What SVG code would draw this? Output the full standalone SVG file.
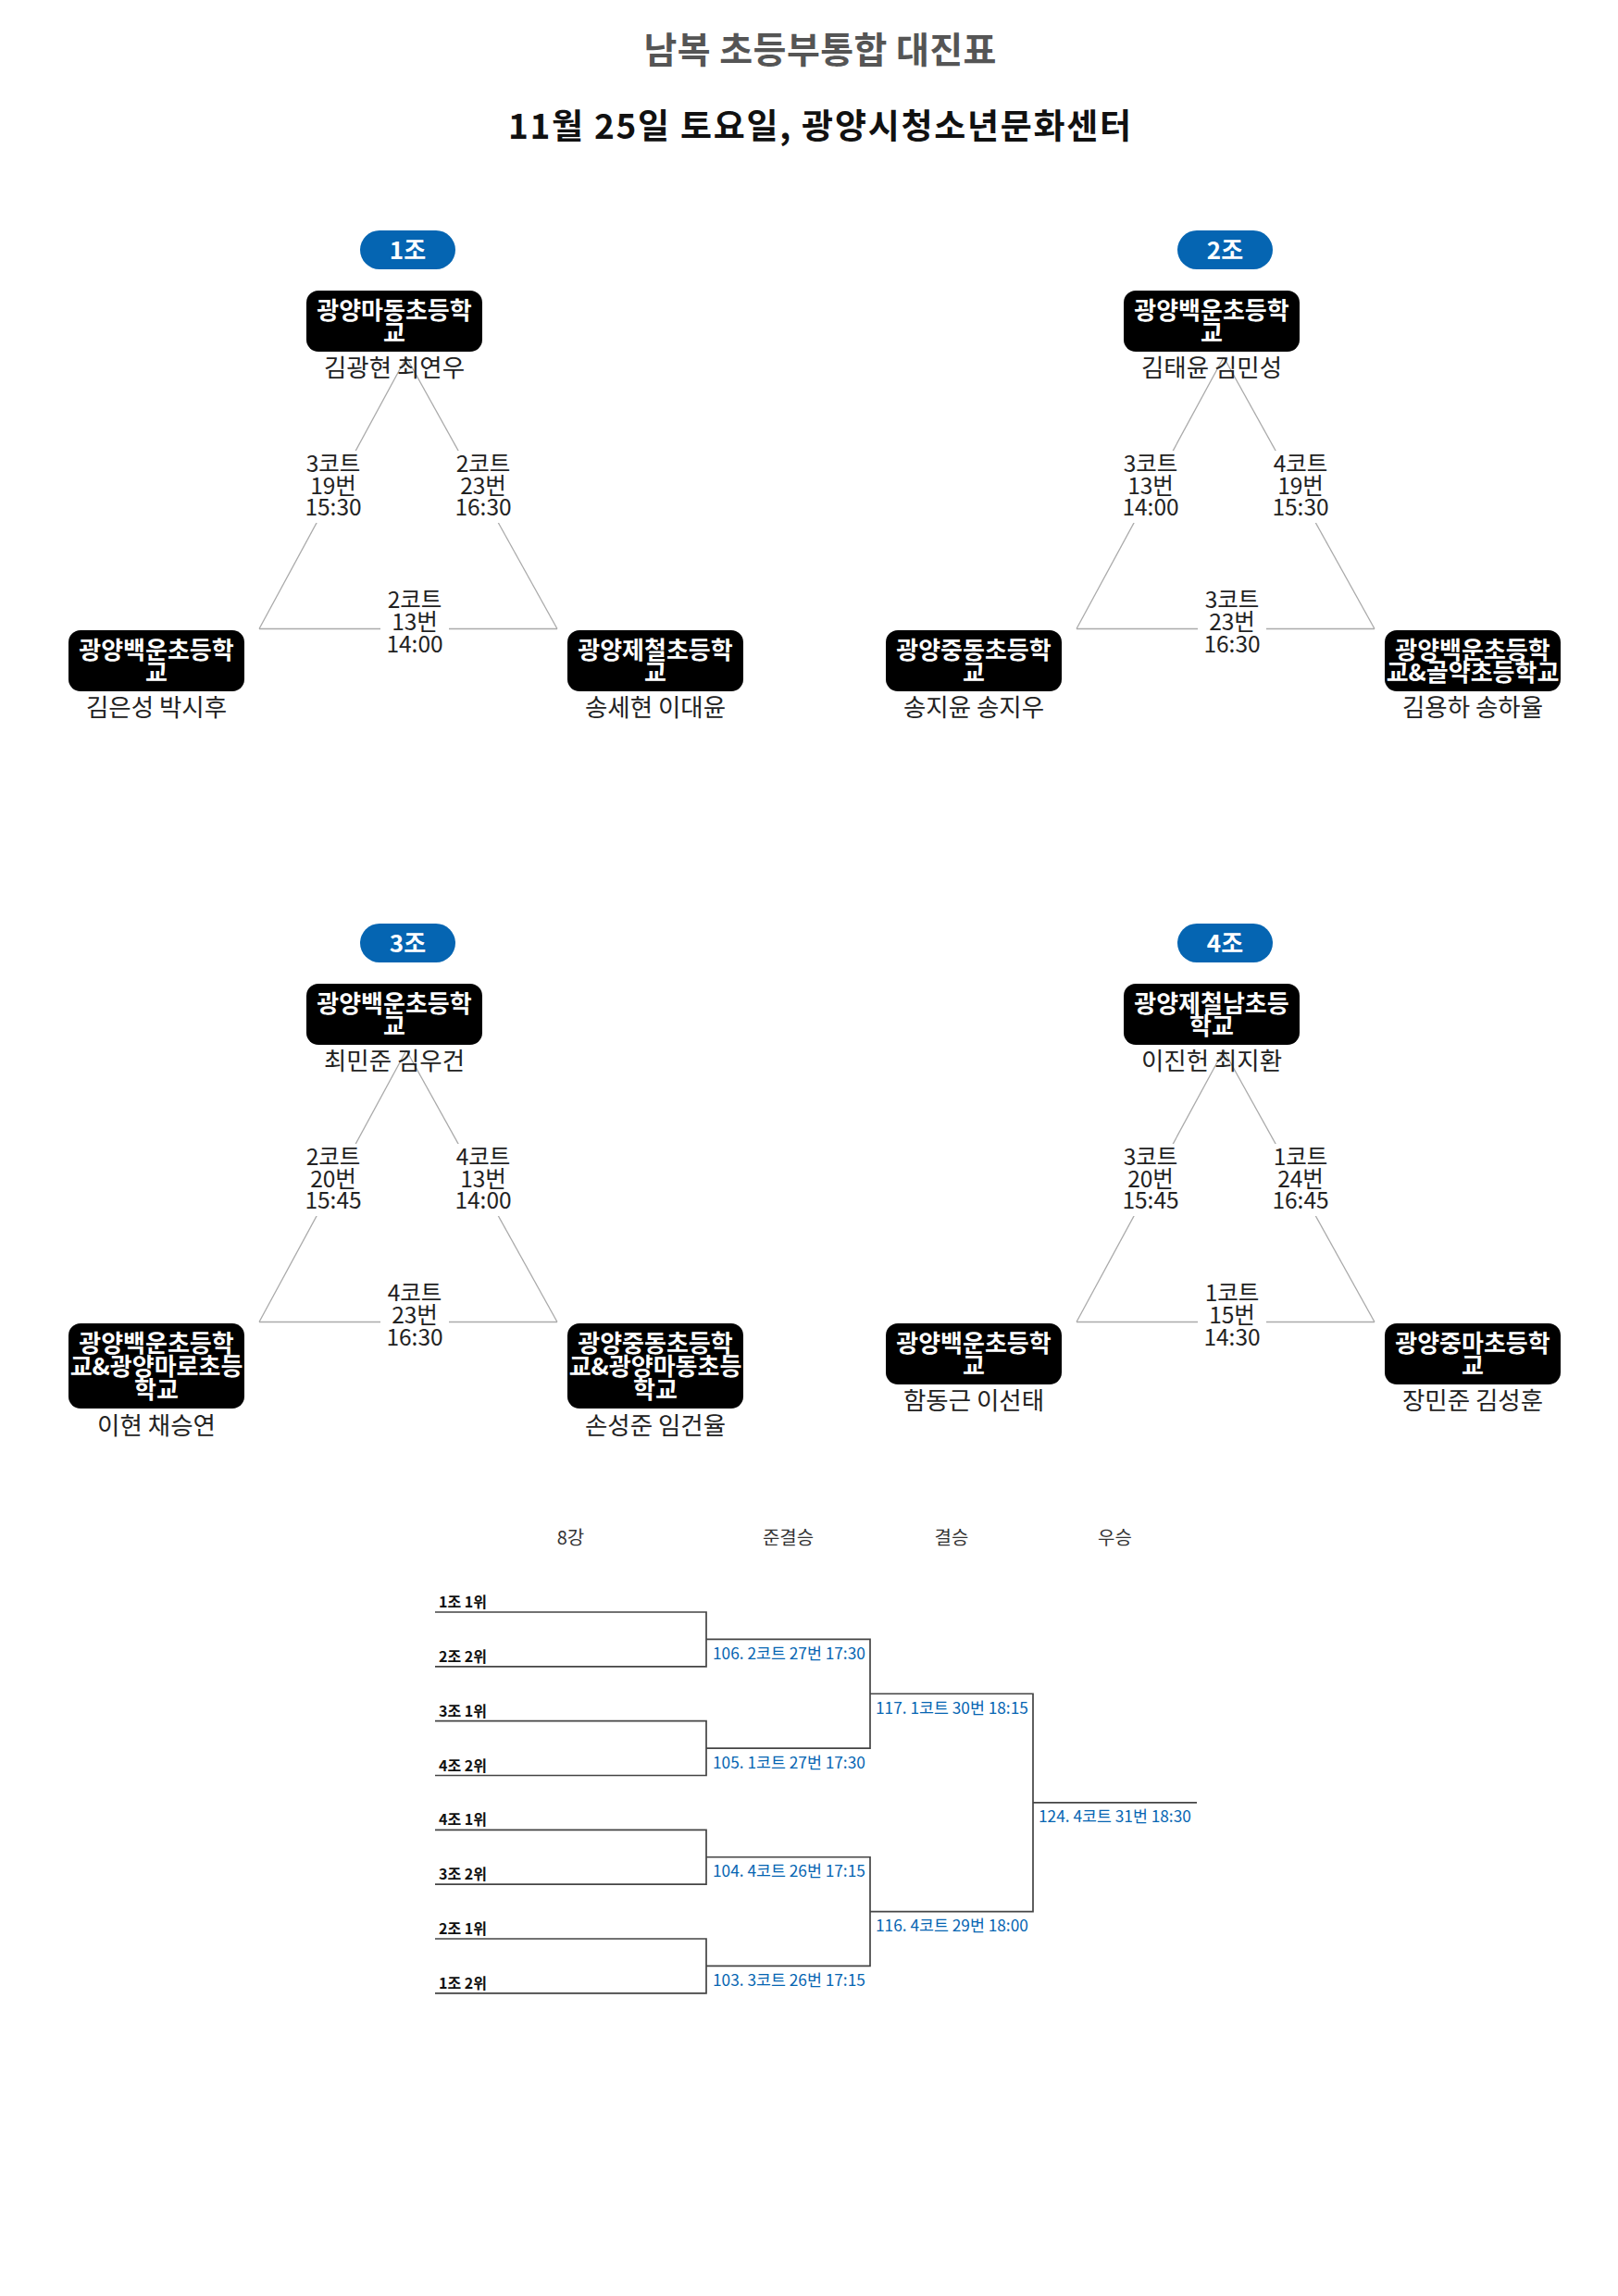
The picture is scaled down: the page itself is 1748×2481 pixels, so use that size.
<svg xmlns="http://www.w3.org/2000/svg" width="1748" height="2481" viewBox="0 0 1748 2481">
<style>
text{font-family:"Noto Sans CJK KR","Noto Sans",sans-serif}
.title{font-size:39px;font-weight:bold;fill:#555;text-anchor:middle}
.sub{font-size:37px;font-weight:bold;fill:#111;text-anchor:middle}
.pill{fill:#0565b2}
.pt{font-size:26px;font-weight:bold;fill:#fff;text-anchor:middle}
.box{fill:#000}
.bt{font-size:26px;font-weight:bold;fill:#fff;text-anchor:middle}
.nm{font-size:26.5px;fill:#222;text-anchor:middle}
.edge{stroke:#aaa;stroke-width:1.3;fill:none}
.lbg{fill:#fff}
.el{font-size:24.5px;fill:#222;text-anchor:middle}
.br{stroke:#444;stroke-width:1.7;fill:none}
.rh{font-size:20px;fill:#333;text-anchor:middle}
.rl{font-size:16px;font-weight:bold;fill:#111}
.ml{font-size:17.3px;fill:#0565b2}
</style>
<rect width="1748" height="2481" fill="#fff"/>
<g id="header">
<text class="title" x="886" y="68" textLength="381" lengthAdjust="spacing">남복 초등부통합 대진표</text>
<text class="sub" x="885.5" y="150" textLength="673" lengthAdjust="spacing">11월 25일 토요일, 광양시청소년문화센터</text>
</g>
<g id="connectors">
<g id="pool1-edges">
<line class="edge" x1="439" y1="386" x2="280" y2="679.5"/>
<line class="edge" x1="439" y1="386" x2="602" y2="679.5"/>
<line class="edge" x1="280" y1="679.5" x2="602" y2="679.5"/>
<rect class="lbg" x="326" y="487" width="68" height="78"/>
<text class="el" x="360" y="510">3코트</text><text class="el" x="360" y="533.5">19번</text><text class="el" x="360" y="557">15:30</text>
<rect class="lbg" x="488" y="487" width="68" height="78"/>
<text class="el" x="522" y="510">2코트</text><text class="el" x="522" y="533.5">23번</text><text class="el" x="522" y="557">16:30</text>
<rect class="lbg" x="411" y="636" width="74" height="74"/>
<text class="el" x="448" y="657">2코트</text><text class="el" x="448" y="681">13번</text><text class="el" x="448" y="705">14:00</text>
</g>
<g id="pool2-edges">
<line class="edge" x1="1322" y1="386" x2="1163" y2="679.5"/>
<line class="edge" x1="1322" y1="386" x2="1485" y2="679.5"/>
<line class="edge" x1="1163" y1="679.5" x2="1485" y2="679.5"/>
<rect class="lbg" x="1209" y="487" width="68" height="78"/>
<text class="el" x="1243" y="510">3코트</text><text class="el" x="1243" y="533.5">13번</text><text class="el" x="1243" y="557">14:00</text>
<rect class="lbg" x="1371" y="487" width="68" height="78"/>
<text class="el" x="1405" y="510">4코트</text><text class="el" x="1405" y="533.5">19번</text><text class="el" x="1405" y="557">15:30</text>
<rect class="lbg" x="1294" y="636" width="74" height="74"/>
<text class="el" x="1331" y="657">3코트</text><text class="el" x="1331" y="681">23번</text><text class="el" x="1331" y="705">16:30</text>
</g>
<g id="pool3-edges">
<line class="edge" x1="439" y1="1135" x2="280" y2="1428.5"/>
<line class="edge" x1="439" y1="1135" x2="602" y2="1428.5"/>
<line class="edge" x1="280" y1="1428.5" x2="602" y2="1428.5"/>
<rect class="lbg" x="326" y="1236" width="68" height="78"/>
<text class="el" x="360" y="1259">2코트</text><text class="el" x="360" y="1282.5">20번</text><text class="el" x="360" y="1306">15:45</text>
<rect class="lbg" x="488" y="1236" width="68" height="78"/>
<text class="el" x="522" y="1259">4코트</text><text class="el" x="522" y="1282.5">13번</text><text class="el" x="522" y="1306">14:00</text>
<rect class="lbg" x="411" y="1385" width="74" height="74"/>
<text class="el" x="448" y="1406">4코트</text><text class="el" x="448" y="1430">23번</text><text class="el" x="448" y="1454">16:30</text>
</g>
<g id="pool4-edges">
<line class="edge" x1="1322" y1="1135" x2="1163" y2="1428.5"/>
<line class="edge" x1="1322" y1="1135" x2="1485" y2="1428.5"/>
<line class="edge" x1="1163" y1="1428.5" x2="1485" y2="1428.5"/>
<rect class="lbg" x="1209" y="1236" width="68" height="78"/>
<text class="el" x="1243" y="1259">3코트</text><text class="el" x="1243" y="1282.5">20번</text><text class="el" x="1243" y="1306">15:45</text>
<rect class="lbg" x="1371" y="1236" width="68" height="78"/>
<text class="el" x="1405" y="1259">1코트</text><text class="el" x="1405" y="1282.5">24번</text><text class="el" x="1405" y="1306">16:45</text>
<rect class="lbg" x="1294" y="1385" width="74" height="74"/>
<text class="el" x="1331" y="1406">1코트</text><text class="el" x="1331" y="1430">15번</text><text class="el" x="1331" y="1454">14:30</text>
</g>
<g id="bracket-lines">
<path class="br" d="M470,1742 H763 V1800.8 H470"/>
<path class="br" d="M470,1859.7 H763 V1918.5 H470"/>
<path class="br" d="M470,1977.3 H763 V2036.2 H470"/>
<path class="br" d="M470,2095 H763 V2153.8 H470"/>
<path class="br" d="M763,1771.4 H940 V1889.1 H763"/>
<path class="br" d="M763,2006.75 H940 V2124.4 H763"/>
<path class="br" d="M940,1830.25 H1116 V2065.6 H940"/>
<path class="br" d="M1116,1947.9 H1293"/>
</g>
</g>
<!-- Pool 1 -->
<g id="pool1-label"><rect class="pill" x="389" y="249" width="103" height="42" rx="21"/><text class="pt" x="440.5" y="280">1조</text></g>
<g id="p1-top"><rect class="box" x="331" y="314" width="190" height="66" rx="13"/><text class="bt" x="426" y="344.5">광양마동초등학</text><text class="bt" x="426" y="369">교</text><text class="nm" x="426" y="407">김광현 최연우</text></g>
<g id="p1-left"><rect class="box" x="74" y="681" width="190" height="66" rx="13"/><text class="bt" x="169" y="711.5">광양백운초등학</text><text class="bt" x="169" y="736">교</text><text class="nm" x="169" y="774">김은성 박시후</text></g>
<g id="p1-right"><rect class="box" x="613" y="681" width="190" height="66" rx="13"/><text class="bt" x="708" y="711.5">광양제철초등학</text><text class="bt" x="708" y="736">교</text><text class="nm" x="708" y="774">송세현 이대윤</text></g>
<!-- Pool 2 -->
<g id="pool2-label"><rect class="pill" x="1272" y="249" width="103" height="42" rx="21"/><text class="pt" x="1323.5" y="280">2조</text></g>
<g id="p2-top"><rect class="box" x="1214" y="314" width="190" height="66" rx="13"/><text class="bt" x="1309" y="344.5">광양백운초등학</text><text class="bt" x="1309" y="369">교</text><text class="nm" x="1309" y="407">김태윤 김민성</text></g>
<g id="p2-left"><rect class="box" x="957" y="681" width="190" height="66" rx="13"/><text class="bt" x="1052" y="711.5">광양중동초등학</text><text class="bt" x="1052" y="736">교</text><text class="nm" x="1052" y="774">송지윤 송지우</text></g>
<g id="p2-right"><rect class="box" x="1496" y="681" width="190" height="66" rx="13"/><text class="bt" x="1591" y="711.5">광양백운초등학</text><text class="bt" x="1591" y="736">교&amp;골약초등학교</text><text class="nm" x="1591" y="774">김용하 송하율</text></g>
<!-- Pool 3 -->
<g id="pool3-label"><rect class="pill" x="389" y="998" width="103" height="42" rx="21"/><text class="pt" x="440.5" y="1029">3조</text></g>
<g id="p3-top"><rect class="box" x="331" y="1063" width="190" height="66" rx="13"/><text class="bt" x="426" y="1093.5">광양백운초등학</text><text class="bt" x="426" y="1118">교</text><text class="nm" x="426" y="1156">최민준 김우건</text></g>
<g id="p3-left"><rect class="box" x="74" y="1430" width="190" height="92" rx="13"/><text class="bt" x="169" y="1460.5">광양백운초등학</text><text class="bt" x="169" y="1485.5">교&amp;광양마로초등</text><text class="bt" x="169" y="1510.5">학교</text><text class="nm" x="169" y="1550">이현 채승연</text></g>
<g id="p3-right"><rect class="box" x="613" y="1430" width="190" height="92" rx="13"/><text class="bt" x="708" y="1460.5">광양중동초등학</text><text class="bt" x="708" y="1485.5">교&amp;광양마동초등</text><text class="bt" x="708" y="1510.5">학교</text><text class="nm" x="708" y="1550">손성준 임건율</text></g>
<!-- Pool 4 -->
<g id="pool4-label"><rect class="pill" x="1272" y="998" width="103" height="42" rx="21"/><text class="pt" x="1323.5" y="1029">4조</text></g>
<g id="p4-top"><rect class="box" x="1214" y="1063" width="190" height="66" rx="13"/><text class="bt" x="1309" y="1093.5">광양제철남초등</text><text class="bt" x="1309" y="1118">학교</text><text class="nm" x="1309" y="1156">이진헌 최지환</text></g>
<g id="p4-left"><rect class="box" x="957" y="1430" width="190" height="66" rx="13"/><text class="bt" x="1052" y="1460.5">광양백운초등학</text><text class="bt" x="1052" y="1485">교</text><text class="nm" x="1052" y="1523">함동근 이선태</text></g>
<g id="p4-right"><rect class="box" x="1496" y="1430" width="190" height="66" rx="13"/><text class="bt" x="1591" y="1460.5">광양중마초등학</text><text class="bt" x="1591" y="1485">교</text><text class="nm" x="1591" y="1523">장민준 김성훈</text></g>
<!-- Bracket -->
<g id="round-headers">
<text class="rh" x="616.5" y="1668.5">8강</text>
<text class="rh" x="851.5" y="1668.5">준결승</text>
<text class="rh" x="1028" y="1668.5">결승</text>
<text class="rh" x="1204.5" y="1668.5">우승</text>
</g>
<g id="seeds">
<text class="rl" x="474" y="1737">1조 1위</text>
<text class="rl" x="474" y="1795.8">2조 2위</text>
<text class="rl" x="474" y="1854.7">3조 1위</text>
<text class="rl" x="474" y="1913.5">4조 2위</text>
<text class="rl" x="474" y="1972.3">4조 1위</text>
<text class="rl" x="474" y="2031.2">3조 2위</text>
<text class="rl" x="474" y="2090">2조 1위</text>
<text class="rl" x="474" y="2148.8">1조 2위</text>
</g>
<g id="match106"><text class="ml" x="770" y="1793">106. 2코트 27번 17:30</text></g>
<g id="match105"><text class="ml" x="770" y="1910.5">105. 1코트 27번 17:30</text></g>
<g id="match104"><text class="ml" x="770" y="2028">104. 4코트 26번 17:15</text></g>
<g id="match103"><text class="ml" x="770" y="2145.5">103. 3코트 26번 17:15</text></g>
<g id="match117"><text class="ml" x="946" y="1851.5">117. 1코트 30번 18:15</text></g>
<g id="match116"><text class="ml" x="946" y="2087">116. 4코트 29번 18:00</text></g>
<g id="match124"><text class="ml" x="1122" y="1969">124. 4코트 31번 18:30</text></g>
</svg>
